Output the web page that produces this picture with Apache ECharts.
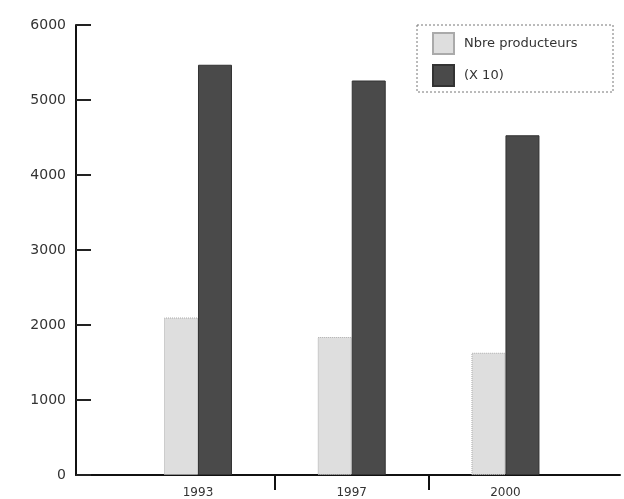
<!DOCTYPE html>
<html>
<head>
<meta charset="utf-8">
<script src="https://cdn.jsdelivr.net/npm/echarts@6/dist/echarts.min.js"></script>
<style>html,body{margin:0;padding:0;background:#fff;}#c{width:624px;height:499px;}</style>
</head>
<body>
<div id="c"></div>
<script>
var categories = ['1993', '1997', '2000'];
var positions = [1, 2, 3];
var producteurs = [2100, 1840, 1630];
var x10 = [5470, 5260, 4530];
var seriesNames = ['Nbre producteurs', '(X 10)'];
var yTicks = [0, 1000, 2000, 3000, 4000, 5000, 6000];

function pairs(vals) { return vals.map(function (v, i) { return [positions[i], v]; }); }

var chart = echarts.init(document.getElementById('c'), null, { renderer: 'canvas' });
chart.setOption({
  animation: false,
  backgroundColor: '#fff',
  textStyle: { fontFamily: 'DejaVu Sans' },
  grid: { left: 76, right: 4, top: 25, bottom: 24, containLabel: false },
  legend: {
    orient: 'vertical', left: 432, top: 32, padding: 0, itemWidth: 21, itemHeight: 21, itemGap: 9,
    icon: 'rect',
    textStyle: { fontSize: 13, color: '#333', fontFamily: 'DejaVu Sans', padding: [0, 0, 0, 5] },
    data: seriesNames
  },
  graphic: [{
    type: 'rect', shape: { x: 417, y: 25, width: 196, height: 67 },
    style: { fill: 'none', stroke: '#777', lineWidth: 1, lineDash: [2, 2] }, z: 10
  }],
  xAxis: {
    type: 'value', min: 0.2065, max: 3.745,
    axisLine: { show: true, onZero: false, lineStyle: { color: '#111', width: 2 } },
    axisTick: { show: true, customValues: [1.5, 2.5], length: 15, inside: false, lineStyle: { color: '#111', width: 2 } },
    axisLabel: {
      customValues: positions, margin: 12, fontSize: 12, color: '#333',
      formatter: function (v) { var i = positions.indexOf(Math.round(v)); return i >= 0 ? categories[i] : ''; }
    },
    splitLine: { show: false }
  },
  yAxis: {
    type: 'value', min: 0, max: 6000, interval: 1000,
    axisLine: { show: true, lineStyle: { color: '#111', width: 2 } },
    axisTick: { show: true, inside: true, length: 15, lineStyle: { color: '#222', width: 2 } },
    axisLabel: { margin: 10, fontSize: 14, color: '#333', formatter: function (v) { return String(v); } },
    splitLine: { show: false }
  },
  series: [
    {
      name: seriesNames[0], type: 'bar', barWidth: 34, barGap: '0%',
      itemStyle: { color: '#dedede', borderColor: '#aaa', borderWidth: 1, borderType: 'dotted' },
      data: pairs(producteurs)
    },
    {
      name: seriesNames[1], type: 'bar', barWidth: 34, barGap: '0%',
      itemStyle: { color: '#4a4a4a', borderColor: '#333', borderWidth: 1 },
      data: pairs(x10)
    }
  ]
});
</script>
</body>
</html>
